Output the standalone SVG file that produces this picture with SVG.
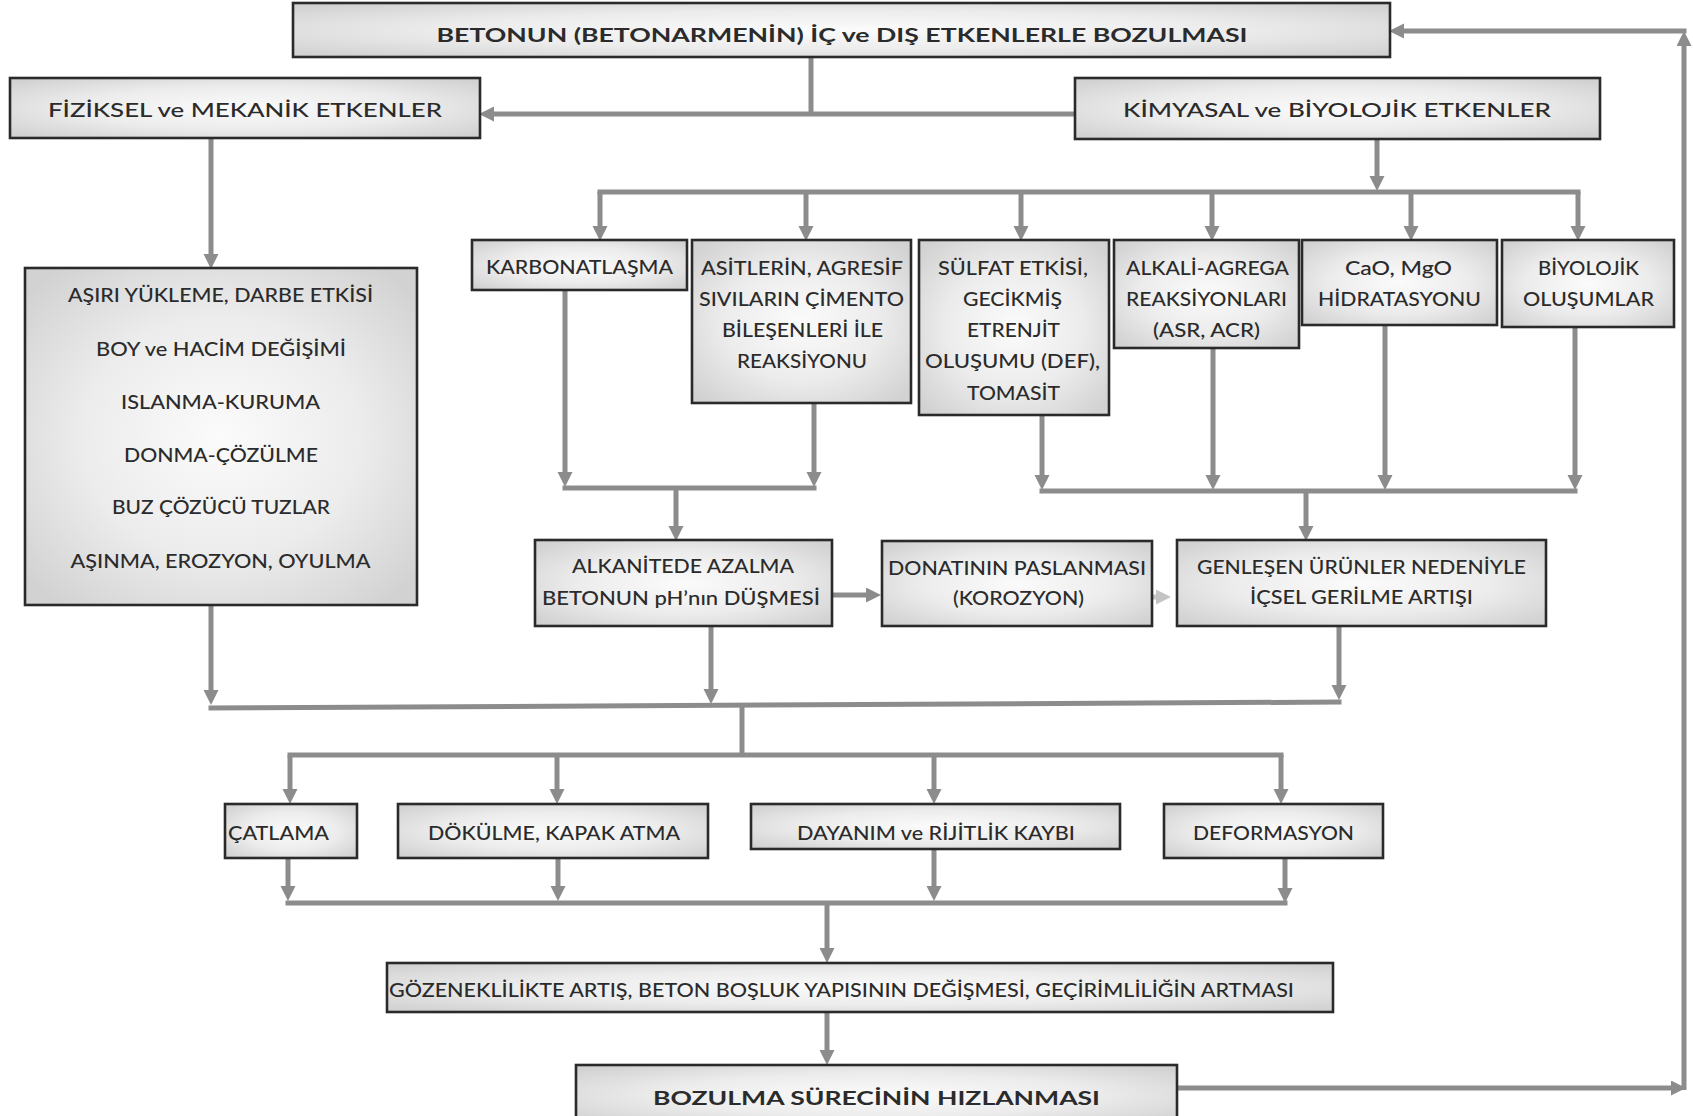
<svg xmlns="http://www.w3.org/2000/svg" width="1693" height="1116" viewBox="0 0 1693 1116">
<defs>
<radialGradient id="g" cx="50%" cy="50%" r="65%">
<stop offset="0" stop-color="#fbfbfb"/>
<stop offset="0.55" stop-color="#ececec"/>
<stop offset="1" stop-color="#d2d2d2"/>
</radialGradient>
<marker id="a" markerUnits="userSpaceOnUse" markerWidth="16" markerHeight="16" refX="4" refY="7.5" orient="auto">
<path d="M0,0 L15,7.5 L0,15 z" fill="#8c8c8c"/>
</marker>
<marker id="al" markerUnits="userSpaceOnUse" markerWidth="16" markerHeight="16" refX="4" refY="7.5" orient="auto">
<path d="M0,0 L15,7.5 L0,15 z" fill="#c4c4c4"/>
</marker>
<style>
.b{fill:url(#g);stroke:#2a2a2a;stroke-width:2.6}
.t{font-family:Lato,"Open Sans","Liberation Sans",sans-serif;fill:#2b2b2b;text-anchor:middle;font-size:19px;font-weight:500}
.bold{font-weight:bold}
.c path{fill:none;stroke:#8c8c8c;stroke-width:5}
.c .ar{marker-end:url(#a)}
</style>
</defs>
<rect width="1693" height="1116" fill="#ffffff"/>

<g id="connectors" class="c">
<path d="M811,57 V114"/>
<path class="ar" d="M1075,114 H490"/>
<path class="ar" d="M211,138 V258"/>
<path class="ar" d="M1377,139 V180"/>
<path d="M597.5,192 H1580.5"/>
<path class="ar" d="M600,192 V230"/>
<path class="ar" d="M806,192 V230"/>
<path class="ar" d="M1021,192 V230"/>
<path class="ar" d="M1212,192 V230"/>
<path class="ar" d="M1411,192 V230"/>
<path class="ar" d="M1578,192 V230"/>
<path class="ar" d="M565,290 V476"/>
<path class="ar" d="M814,403 V476"/>
<path d="M562.5,488 H816.5"/>
<path class="ar" d="M676,488 V530"/>
<path class="ar" d="M1042,415 V479"/>
<path class="ar" d="M1213,348 V479"/>
<path class="ar" d="M1385,325 V479"/>
<path class="ar" d="M1575,327 V479"/>
<path d="M1039.5,491 H1577.5"/>
<path class="ar" d="M1306,491 V530"/>
<path class="ar" d="M832,595 H870"/>
<path d="M1152,597 H1160" style="stroke:#c4c4c4;marker-end:url(#al)"/>
<path class="ar" d="M211,605 V694"/>
<path class="ar" d="M711,626 V693"/>
<path class="ar" d="M1339,626 V689"/>
<path d="M208.5,708 L1341.5,702"/>
<path d="M742,705 V755"/>
<path d="M287.5,755 H1283.5"/>
<path class="ar" d="M290,755 V793"/>
<path class="ar" d="M557,755 V793"/>
<path class="ar" d="M934,755 V793"/>
<path class="ar" d="M1281,755 V793"/>
<path class="ar" d="M288,858 V890"/>
<path class="ar" d="M558,858 V890"/>
<path class="ar" d="M934,849 V890"/>
<path class="ar" d="M1285,858 V892"/>
<path d="M285.5,903 H1287.5"/>
<path class="ar" d="M827,903 V952"/>
<path class="ar" d="M827,1012 V1054"/>
<path class="ar" d="M1177,1088 H1675"/>
<path class="ar" d="M1684,1090 V42"/>
<path class="ar" d="M1686.5,31 H1400"/>
</g>

<g id="n-top"><rect class="b" x="293" y="3" width="1097" height="54"/>
<text class="t bold" x="842" y="42" font-size="22" textLength="811" lengthAdjust="spacingAndGlyphs">BETONUN (BETONARMENİN) İÇ ve DIŞ ETKENLERLE BOZULMASI</text></g>

<g id="n-fiziksel"><rect class="b" x="10" y="78" width="470" height="60"/>
<text class="t" x="245" y="117" font-size="22" textLength="394" lengthAdjust="spacingAndGlyphs">FİZİKSEL ve MEKANİK ETKENLER</text></g>

<g id="n-kimyasal"><rect class="b" x="1075" y="78" width="525" height="61"/>
<text class="t" x="1337" y="117" font-size="22" textLength="428" lengthAdjust="spacingAndGlyphs">KİMYASAL ve BİYOLOJİK ETKENLER</text></g>

<g id="n-fiziksel-list"><rect class="b" x="25" y="268" width="392" height="337"/>
<text class="t" font-size="19.5" x="220.5" y="302" textLength="305" lengthAdjust="spacingAndGlyphs">AŞIRI YÜKLEME, DARBE ETKİSİ</text>
<text class="t" font-size="19.5" x="221" y="356" textLength="250" lengthAdjust="spacingAndGlyphs">BOY ve HACİM DEĞİŞİMİ</text>
<text class="t" font-size="19.5" x="220.5" y="409" textLength="199" lengthAdjust="spacingAndGlyphs">ISLANMA-KURUMA</text>
<text class="t" font-size="19.5" x="221" y="462" textLength="194" lengthAdjust="spacingAndGlyphs">DONMA-ÇÖZÜLME</text>
<text class="t" font-size="19.5" x="221" y="514" textLength="218" lengthAdjust="spacingAndGlyphs">BUZ ÇÖZÜCÜ TUZLAR</text>
<text class="t" font-size="19.5" x="220.5" y="568" textLength="300" lengthAdjust="spacingAndGlyphs">AŞINMA, EROZYON, OYULMA</text></g>

<g id="n-karbonat"><rect class="b" x="472" y="240" width="215" height="50"/>
<text class="t" x="579.5" y="274" textLength="187" lengthAdjust="spacingAndGlyphs">KARBONATLAŞMA</text></g>

<g id="n-asit"><rect class="b" x="692" y="240" width="219" height="163"/>
<text class="t" x="802" y="275" textLength="202" lengthAdjust="spacingAndGlyphs">ASİTLERİN, AGRESİF</text>
<text class="t" x="801.5" y="306" textLength="205" lengthAdjust="spacingAndGlyphs">SIVILARIN ÇİMENTO</text>
<text class="t" x="802.5" y="337" textLength="161" lengthAdjust="spacingAndGlyphs">BİLEŞENLERİ İLE</text>
<text class="t" x="802" y="368" textLength="130" lengthAdjust="spacingAndGlyphs">REAKSİYONU</text></g>

<g id="n-sulfat"><rect class="b" x="919" y="240" width="190" height="175"/>
<text class="t" x="1013" y="275" textLength="150" lengthAdjust="spacingAndGlyphs">SÜLFAT ETKİSİ,</text>
<text class="t" x="1012.5" y="306" textLength="99" lengthAdjust="spacingAndGlyphs">GECİKMİŞ</text>
<text class="t" x="1013.5" y="337" textLength="93" lengthAdjust="spacingAndGlyphs">ETRENJİT</text>
<text class="t" x="1012.5" y="368" textLength="175" lengthAdjust="spacingAndGlyphs">OLUŞUMU (DEF),</text>
<text class="t" x="1013.5" y="400" textLength="93" lengthAdjust="spacingAndGlyphs">TOMASİT</text></g>

<g id="n-alkali"><rect class="b" x="1114" y="240" width="185" height="108"/>
<text class="t" x="1207.5" y="275" textLength="163" lengthAdjust="spacingAndGlyphs">ALKALİ-AGREGA</text>
<text class="t" x="1206.5" y="306" textLength="161" lengthAdjust="spacingAndGlyphs">REAKSİYONLARI</text>
<text class="t" x="1206.5" y="337" textLength="107" lengthAdjust="spacingAndGlyphs">(ASR, ACR)</text></g>

<g id="n-cao"><rect class="b" x="1302" y="240" width="195" height="85"/>
<text class="t" x="1398.5" y="275" textLength="107" lengthAdjust="spacingAndGlyphs">CaO, MgO</text>
<text class="t" x="1399.5" y="306" textLength="163" lengthAdjust="spacingAndGlyphs">HİDRATASYONU</text></g>

<g id="n-biyolojik"><rect class="b" x="1502" y="240" width="172" height="87"/>
<text class="t" x="1588.5" y="275" textLength="101" lengthAdjust="spacingAndGlyphs">BİYOLOJİK</text>
<text class="t" x="1588.5" y="306" textLength="131" lengthAdjust="spacingAndGlyphs">OLUŞUMLAR</text></g>

<g id="n-alkanite"><rect class="b" x="535" y="540" width="297" height="86"/>
<text class="t" x="683" y="573" textLength="222" lengthAdjust="spacingAndGlyphs">ALKANİTEDE AZALMA</text>
<text class="t" x="681" y="605" textLength="278" lengthAdjust="spacingAndGlyphs">BETONUN pH’nın DÜŞMESİ</text></g>

<g id="n-donati"><rect class="b" x="882" y="541" width="270" height="85"/>
<text class="t" x="1017" y="575" textLength="258" lengthAdjust="spacingAndGlyphs">DONATININ PASLANMASI</text>
<text class="t" x="1018.5" y="605" textLength="131" lengthAdjust="spacingAndGlyphs">(KOROZYON)</text></g>

<g id="n-genlesen"><rect class="b" x="1177" y="540" width="369" height="86"/>
<text class="t" x="1361.5" y="574" textLength="329" lengthAdjust="spacingAndGlyphs">GENLEŞEN ÜRÜNLER NEDENİYLE</text>
<text class="t" x="1361.5" y="604" textLength="223" lengthAdjust="spacingAndGlyphs">İÇSEL GERİLME ARTIŞI</text></g>

<g id="n-catlama"><rect class="b" x="225" y="804" width="132" height="54"/>
<text class="t" x="278.5" y="840" textLength="101" lengthAdjust="spacingAndGlyphs">ÇATLAMA</text></g>

<g id="n-dokulme"><rect class="b" x="398" y="804" width="310" height="54"/>
<text class="t" x="554" y="840" textLength="252" lengthAdjust="spacingAndGlyphs">DÖKÜLME, KAPAK ATMA</text></g>

<g id="n-dayanim"><rect class="b" x="751" y="804" width="369" height="45"/>
<text class="t" x="936" y="840" textLength="278" lengthAdjust="spacingAndGlyphs">DAYANIM ve RİJİTLİK KAYBI</text></g>

<g id="n-deformasyon"><rect class="b" x="1164" y="804" width="219" height="54"/>
<text class="t" x="1273.5" y="840" textLength="161" lengthAdjust="spacingAndGlyphs">DEFORMASYON</text></g>

<g id="n-gozenek"><rect class="b" x="387" y="963" width="946" height="49"/>
<text class="t" font-size="18.5" x="841.5" y="997" textLength="905" lengthAdjust="spacingAndGlyphs">GÖZENEKLİLİKTE ARTIŞ, BETON BOŞLUK YAPISININ DEĞİŞMESİ, GEÇİRİMLİLİĞİN ARTMASI</text></g>

<g id="n-bozulma"><rect class="b" x="576" y="1065" width="601" height="60"/>
<text class="t bold" font-size="24" x="876.5" y="1105" textLength="447" lengthAdjust="spacingAndGlyphs">BOZULMA SÜRECİNİN HIZLANMASI</text></g>
</svg>
